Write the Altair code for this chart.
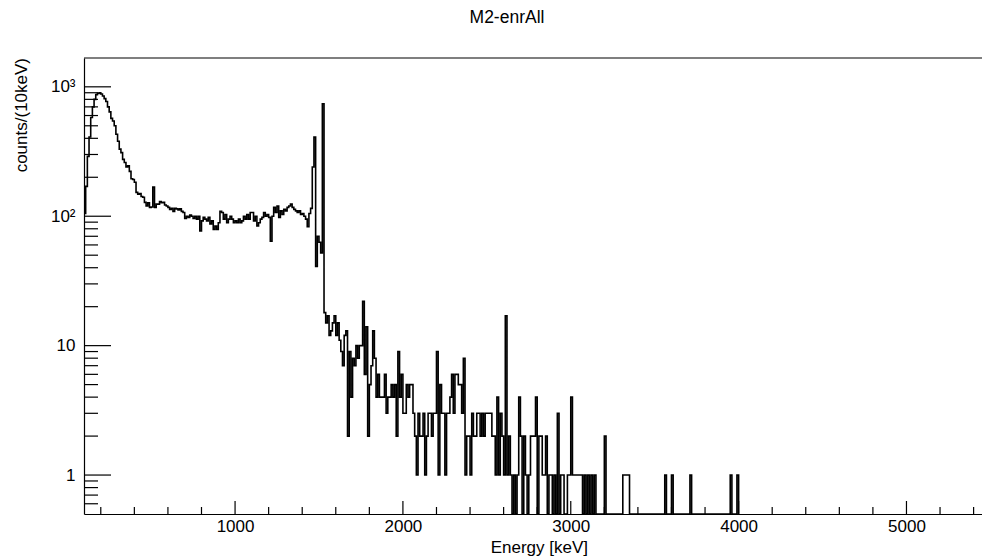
import altair as alt
import pandas as pd

# Histogram: 10 keV bins starting at 100 keV
bin_start = 100
bin_width = 10
counts = [
    105, 170, 290, 410, 580, 700, 800, 870, 890, 900,
    880, 850, 810, 770, 700, 640, 570, 545, 500, 430,
    380, 330, 310, 275, 260, 240, 245, 222, 195, 192,
    183, 153, 148, 150, 142, 140, 128, 120, 127, 117,
    118, 168, 117, 124, 124, 130, 127, 128, 122, 120,
    117, 113, 115, 109, 115, 114, 112, 114, 109, 107,
    96, 100, 98, 102, 100, 96, 100, 95, 100, 77,
    92, 98, 95, 92, 98, 87, 92, 79, 84, 79,
    89, 109, 107, 95, 103, 89, 95, 100, 95, 89,
    92, 89, 95, 89, 92, 100, 95, 103, 95, 107,
    107, 92, 100, 84, 89, 95, 98, 107, 100, 103,
    98, 64, 100, 117, 107, 120, 98, 110, 103, 113,
    110, 117, 120, 124, 117, 113, 110, 107, 110, 103,
    105, 100, 95, 83, 105, 115, 240, 410, 41, 70,
    63, 52, 740, 18, 15, 17, 12, 13, 15, 17,
    12, 15, 11, 9, 7, 12, 13, 2, 9, 4,
    8, 7, 10, 8, 10, 10, 22, 6, 14, 2,
    5, 7, 13, 8, 4, 6, 4, 4, 4, 6,
    3, 4, 4, 5, 4, 5, 2, 9, 4, 6,
    3, 3, 5, 4, 5, 5, 3, 2, 1, 3,
    2, 2, 3, 1, 2, 3, 3, 2, 3, 3,
    9, 1, 5, 3, 3, 1, 3, 3, 4, 6,
    3, 6, 6, 5, 5, 3, 8, 1, 2, 2,
    1, 3, 2, 2, 3, 3, 2, 3, 2, 3,
    3, 3, 3, 2, 2, 1, 4, 1, 3, 2,
    1, 17, 1, 2, 1, 0, 1, 0, 1, 4,
    2, 0, 2, 1, 0, 1, 2, 2, 2, 4,
    0, 2, 2, 1, 1, 2, 0, 1, 1, 0,
    1, 0, 3, 0, 1, 1, 0, 0, 1, 1,
    4, 1, 1, 1, 1, 1, 1, 0, 1, 0,
    1, 0, 1, 0, 1, 0, 0, 0, 0, 0,
    2, 0, 0, 0, 0, 0, 0, 0, 0, 0,
    0, 1, 1, 1, 1, 0, 0, 0, 0, 0,
    0, 0, 0, 0, 0, 0, 0, 0, 0, 0,
    0, 0, 0, 0, 0, 0, 1, 0, 0, 0,
    1, 0, 0, 0, 0, 0, 0, 0, 0, 0,
    0, 1, 0, 0, 0, 0, 0, 0, 0, 0,
    0, 0, 0, 0, 0, 0, 0, 0, 0, 0,
    0, 0, 0, 0, 0, 1, 0, 0, 0, 1,
]

x_major = [1000, 2000, 3000, 4000, 5000]
x_minor = [200, 400, 600, 800, 1200, 1400, 1600, 1800, 2200, 2400, 2600, 2800,
           3200, 3400, 3600, 3800, 4200, 4400, 4600, 4800, 5200, 5400]
y_major = [1, 10, 100, 1000]
y_minor = [0.6, 0.7, 0.8, 0.9, 2, 3, 4, 5, 6, 7, 8, 9,
           20, 30, 40, 50, 60, 70, 80, 90, 200, 300, 400, 500, 600, 700, 800, 900]

title_text = "M2-enrAll"
x_title = "Energy [keV]"
y_title = "counts/(10keV)"

W, H = 898, 456
FONT = "Liberation Sans"
FS = 17

energies = [bin_start + bin_width * i for i in range(len(counts) + 1)]
df = pd.DataFrame({"energy": energies, "counts": counts + [0]})

xs = alt.Scale(domain=[100, 5450], nice=False, zero=False)
ys = alt.Scale(type="log", domain=[0.5, 1670], nice=False)

hist = alt.Chart(df).transform_calculate(
    yv="max(datum.counts, 0.5)"
).mark_line(interpolate="step-after", color="black", strokeWidth=1.6, clip=True).encode(
    x=alt.X("energy:Q", scale=xs,
            axis=alt.Axis(values=x_major, format="d", ticks=False, grid=False, title=None,
                          domainColor="black", domainWidth=1.2, labelFont=FONT, labelFontSize=FS,
                          labelColor="black", labelPadding=4)),
    y=alt.Y("yv:Q", scale=ys,
            axis=alt.Axis(values=y_major, ticks=False, grid=False, title=None,
                          labelExpr="datum.value == 1000 ? '10³' : datum.value == 100 ? '10²' : datum.value == 10 ? '10' : '1'",
                          domainColor="black", domainWidth=1.2, labelFont=FONT, labelFontSize=FS,
                          labelColor="black", labelPadding=9)),
)

xmaj = alt.Chart(pd.DataFrame({"v": x_major})).mark_rule(color="black", strokeWidth=1.2).encode(
    x=alt.X("v:Q", scale=xs), y=alt.value(H), y2=alt.value(H - 13))
xmin = alt.Chart(pd.DataFrame({"v": x_minor})).mark_rule(color="black", strokeWidth=1.2).encode(
    x=alt.X("v:Q", scale=xs), y=alt.value(H), y2=alt.value(H - 7))
ymaj = alt.Chart(pd.DataFrame({"v": y_major})).mark_rule(color="black", strokeWidth=1.2).encode(
    y=alt.Y("v:Q", scale=ys), x=alt.value(0), x2=alt.value(27))
ymin = alt.Chart(pd.DataFrame({"v": y_minor})).mark_rule(color="black", strokeWidth=1.2).encode(
    y=alt.Y("v:Q", scale=ys), x=alt.value(0), x2=alt.value(14))

top_line = alt.Chart(pd.DataFrame({"a": [0]})).mark_rule(color="black", strokeWidth=1.2).encode(
    x=alt.value(0), x2=alt.value(W), y=alt.value(0))

title = alt.Chart(pd.DataFrame({"t": [title_text]})).mark_text(
    font=FONT, fontSize=17.5, color="black", align="center", baseline="middle").encode(
    text="t:N", x=alt.value(423), y=alt.value(-40))
xt = alt.Chart(pd.DataFrame({"t": [x_title]})).mark_text(
    font=FONT, fontSize=FS, color="black", align="right", baseline="middle").encode(
    text="t:N", x=alt.value(504), y=alt.value(490))
yt = alt.Chart(pd.DataFrame({"t": [y_title]})).mark_text(
    font=FONT, fontSize=FS, color="black", align="right", baseline="middle", angle=270).encode(
    text="t:N", x=alt.value(-62), y=alt.value(0))

chart = alt.layer(hist, xmaj, xmin, ymaj, ymin, top_line, title, xt, yt).properties(
    width=W, height=H,
    padding={"left": 84, "top": 58, "right": 0, "bottom": 46},
    autosize=alt.AutoSizeParams(type="none"),
    background="white",
).configure_view(stroke=None)

chart.save("out.html", embed_options={"renderer": "svg", "actions": False})
